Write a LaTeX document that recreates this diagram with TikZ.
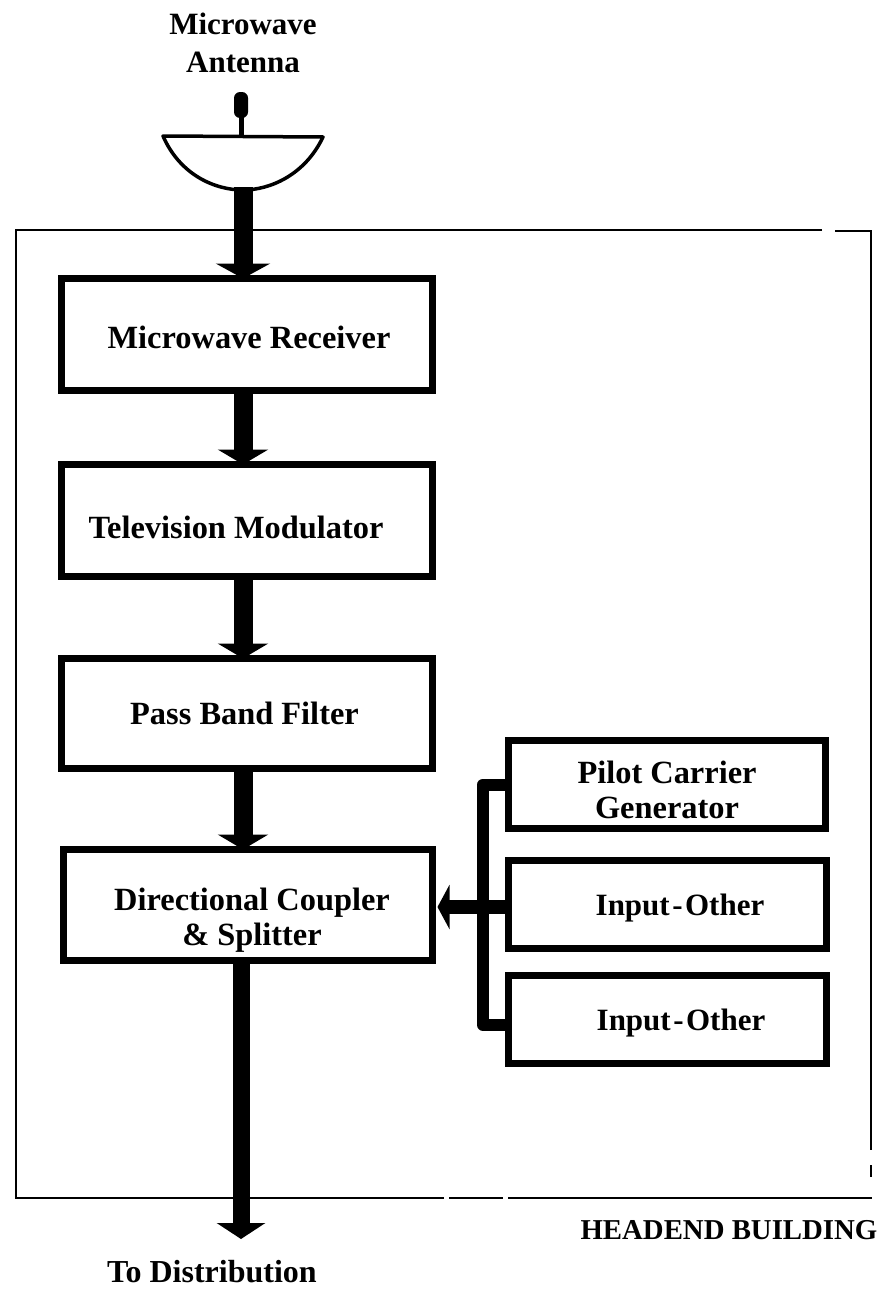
\documentclass[tikz,border=0pt]{standalone}
\usepackage{fontspec}
\setmainfont{Liberation Serif}
\usetikzlibrary{arrows.meta}
\tikzset{
  lbl/.style={font=\fontsize{32.4}{35}\selectfont\bfseries, align=center, inner sep=0pt},
  blockbox/.style={draw=black, line width=7pt, fill=white, outer sep=0pt, inner sep=0pt},
  flow/.style={draw=black, line width=19pt, -{Triangle[width=50pt,length=15pt]}},
  bus/.style={draw=black, line width=12pt, line join=round},
  frameline/.style={draw=black, line width=2.6pt},
  dishline/.style={draw=black, line width=3.5pt, line join=round}
}
\begin{document}
\begin{tikzpicture}[x=1pt,y=-1pt]
\useasboundingbox (0,0) rectangle (882,1290);
\fill[white] (0,0) rectangle (882,1290);
% building outline
\draw[frameline] (822,230) -- (16,230) -- (16,1198) -- (444,1198);
\draw[frameline] (449,1198) -- (503,1198);
\draw[frameline] (508,1198) -- (872,1198);
\draw[frameline] (835,231) -- (871,231) -- (871,1150);
\draw[frameline] (871,1165) -- (871,1177);
% antenna
\node[lbl, font=\fontsize{31}{38}\selectfont\bfseries] (antlabel) at (243,43) {Microwave\\Antenna};
\fill[rounded corners=6pt] (234,92) rectangle (248,118);
\draw[line width=5pt] (241,112) -- (241,136);
\draw[dishline,fill=white] (163,136) -- (323,137) .. controls (305,175) and (270,190) .. (243,190) .. controls (215,190) and (180,175) .. (163,136) -- cycle;
\coordinate (dishb) at (243,187);
% boxes
\node[blockbox, minimum width=371pt, minimum height=112pt] (rx) at (247,334.5) {};
\node[blockbox, minimum width=371pt, minimum height=112pt] (tv) at (247,520.5) {};
\node[blockbox, minimum width=371pt, minimum height=110pt] (pb) at (247,713.5) {};
\node[blockbox, minimum width=369pt, minimum height=111pt] (dc) at (248,905) {};
\node[blockbox, minimum width=317pt, minimum height=88pt] (pilot) at (667,784.5) {};
\node[blockbox, minimum width=318pt, minimum height=88pt] (ina) at (667.5,904.5) {};
\node[blockbox, minimum width=318pt, minimum height=88pt] (inb) at (667.5,1019.5) {};
% box texts
\node[lbl] (rxt) at (249,337) {Microwave Receiver};
\node[lbl] (tvt) at (236,527) {Television Modulator};
\node[lbl] (pbt) at (244.5,713) {Pass Band Filter};
\node[lbl] (dct) at (252,920) {Directional Coupler\\\& Splitter};
\node[lbl] (pilott) at (667,790) {Pilot Carrier\\Generator};
\node[lbl, font=\fontsize{31}{35}\selectfont\bfseries] (inat) at (680,908) {Input\kern2.5pt-\kern2.5pt Other};
\node[lbl, font=\fontsize{31}{35}\selectfont\bfseries] (inbt) at (681,1023) {Input\kern2.5pt-\kern2.5pt Other};
% main flow
\draw[flow, -{Triangle[width=54pt,length=15pt]}] (dishb) -- (dishb |- rx.north);
\coordinate (x2) at (243,390);
\draw[flow] (x2 |- rx.south) -- (x2 |- tv.north);
\draw[flow] (x2 |- tv.south) -- (x2 |- pb.north);
\draw[flow] (x2 |- pb.south) -- (x2 |- dc.north);
\coordinate (dist) at (241,1239);
\draw[draw=black, line width=17pt, -{Triangle[width=48pt,length=16pt]}] (dist |- dc.south) -- (dist);
% side bus
\coordinate (bt) at (483,784);
\coordinate (bm) at (483,907);
\coordinate (bb) at (483,1025);
\draw[bus] (pilot.west) -- (pilot.west -| bt) -- (bb) -- (inb.west |- bb);
\draw[draw=black, line width=14pt, shorten >=5pt, -{Triangle[width=44pt,length=12pt]}] (ina.west |- bm) -- (dc.east |- bm);
% outer labels
\node[lbl, font=\fontsize{28.8}{32}\selectfont\bfseries] (bldg) at (729,1230) {HEADEND BUILDING};
\node[lbl, font=\fontsize{32}{35}\selectfont\bfseries] (todist) at (212,1272) {To Distribution};
\end{tikzpicture}
\end{document}
